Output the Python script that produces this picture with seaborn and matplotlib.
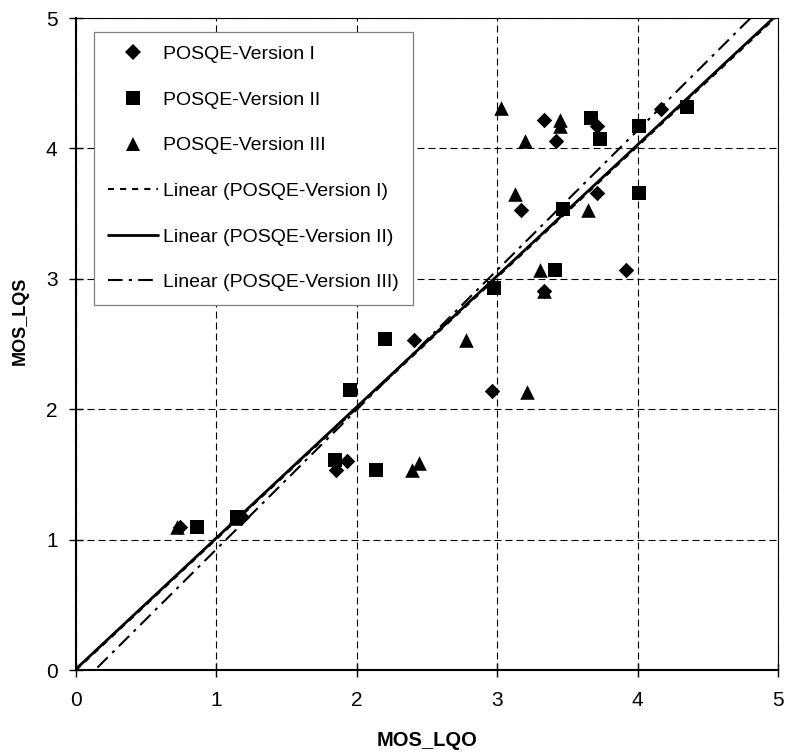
import numpy as np
import pandas as pd
import matplotlib
matplotlib.use("Agg")
import matplotlib.pyplot as plt
import seaborn as sns
from matplotlib.lines import Line2D

# ---- data ----
v1_x = [0.74, 1.18, 1.85, 1.93, 2.41, 2.96, 3.33, 3.17, 3.71, 3.92, 3.33, 3.42, 3.71, 4.17]
v1_y = [1.10, 1.17, 1.53, 1.60, 2.53, 2.14, 2.91, 3.53, 3.655, 3.07, 4.22, 4.06, 4.17, 4.305]

v2_x = [0.86, 1.15, 1.845, 1.95, 2.135, 2.20, 2.977, 3.415, 3.47, 4.01, 3.67, 3.73, 4.01, 4.35]
v2_y = [1.10, 1.17, 1.61, 2.15, 1.534, 2.535, 2.93, 3.07, 3.535, 3.66, 4.23, 4.07, 4.17, 4.315]

v3_x = [0.72, 1.13, 2.39, 2.44, 2.78, 3.21, 3.305, 3.33, 3.127, 3.65, 3.03, 3.20, 3.45, 3.45]
v3_y = [1.10, 1.165, 1.53, 1.585, 2.53, 2.13, 3.07, 2.91, 3.65, 3.53, 4.31, 4.06, 4.22, 4.17]

series_names = ["POSQE-Version I", "POSQE-Version II", "POSQE-Version III"]
trend_names = ["Linear (POSQE-Version I)", "Linear (POSQE-Version II)", "Linear (POSQE-Version III)"]
ticks = [0, 1, 2, 3, 4, 5]
x_label = "MOS_LQO"
y_label = "MOS_LQS"

# ---- styling ----
sns.set_style("white")
plt.rcParams['font.family'] = ['Liberation Sans', 'DejaVu Sans']

W, H = 786, 756
fig = plt.figure(figsize=(W / 100, H / 100), dpi=100)
ax = fig.add_axes([76 / W, 86 / H, 702 / W, 652 / H])
ax.set_xlim(0, 5)
ax.set_ylim(0, 5)

markers = ["D", "s", "^"]
msizes = [62, 88, 110]
line_styles = [
    dict(lw=1.5, dashes=(2.9, 2.9)),
    dict(lw=2.0, linestyle="-"),
    dict(lw=1.5, dashes=(7, 3, 1.5, 3)),
]

data = [(v1_x, v1_y), (v2_x, v2_y), (v3_x, v3_y)]

for i, (xs, ys) in enumerate(data):
    df = pd.DataFrame({"x": xs, "y": ys})
    sns.scatterplot(data=df, x="x", y="y", marker=markers[i], s=msizes[i],
                    color="black", edgecolor="black", linewidth=0, ax=ax, zorder=3)

for i, (xs, ys) in enumerate(data):
    df = pd.DataFrame({"x": xs, "y": ys})
    kw = dict(line_styles[i])
    kw["zorder"] = 4
    sns.regplot(data=df, x="x", y="y", scatter=False, ci=None, truncate=False,
                color="black", line_kws=kw, ax=ax)

ax.set_xlim(0, 5)
ax.set_ylim(0, 5)
ax.set_xticks(ticks)
ax.set_yticks(ticks)

ax.grid(True, color="black", linewidth=0.8, linestyle=(0, (6.3, 3.6)), zorder=1)
ax.set_axisbelow(True)

for side in ["left", "bottom"]:
    ax.spines[side].set_linewidth(1.5)
    ax.spines[side].set_color("black")
for side in ["top", "right"]:
    ax.spines[side].set_linewidth(0.8)
    ax.spines[side].set_color("black")

ax.tick_params(axis="both", direction="inout", length=10, width=1, color="black",
               labelsize=15, labelcolor="black", bottom=True, left=True)
ax.tick_params(axis="y", pad=8.3)
ax.tick_params(axis="x", pad=10)

ax.set_xlabel(x_label, fontsize=14.5, fontweight="bold", color="black")
ax.set_ylabel(y_label, fontsize=13, fontweight="bold", color="black")
ax.xaxis.label.set_va("center")
ax.yaxis.label.set_va("center")
ax.xaxis.set_label_coords(0.5, (670 - 740) / 652)
ax.yaxis.set_label_coords((20 - 76) / 702, (670 - 321) / 652)

# ---- legend ----
handles = []
for i in range(3):
    handles.append(Line2D([], [], marker=markers[i], linestyle="none", color="black",
                          markersize=np.sqrt(msizes[i]), markeredgewidth=0))
for i in range(3):
    kw = dict(line_styles[i])
    handles.append(Line2D([], [], color="black", **kw))
labels = series_names + trend_names

leg = ax.legend(handles, labels, loc="upper left",
                bbox_to_anchor=(94 / W, 1 - 32 / H), bbox_transform=fig.transFigure,
                borderaxespad=0, fontsize=14, handlelength=2.6, handletextpad=0.26,
                labelspacing=1.44, borderpad=0.7, frameon=True, fancybox=False,
                framealpha=1, edgecolor="#808080")
leg.get_frame().set_linewidth(0.9)
for t in leg.get_texts():
    t.set_color("black")

fig.savefig("out.png", dpi=100)
